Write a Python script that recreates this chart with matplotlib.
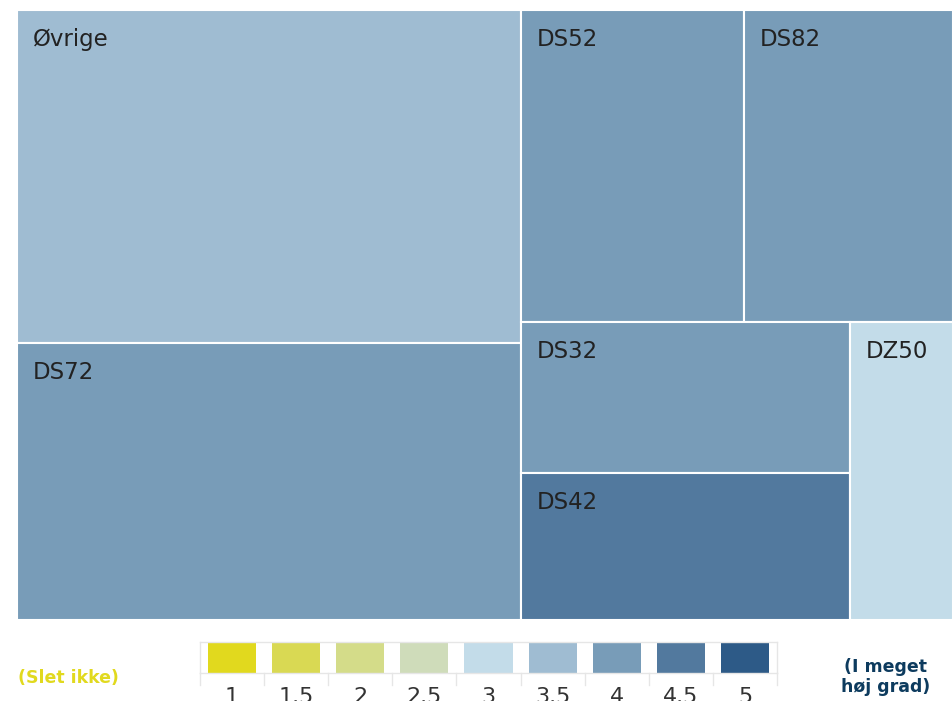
import matplotlib.pyplot as plt
from matplotlib.patches import Rectangle

# node names, sizes (share of total) and colour value (1-5 scale)
names = ['Øvrige', 'DS72', 'DS52', 'DS82', 'DS32', 'DS42', 'DZ50']
sizes = [29.4, 24.4, 12.2, 11.4, 8.7, 8.5, 5.4]
scores = [3.5, 4, 4, 4, 4, 4.5, 3]

# colour classes of the legend
classes = [1, 1.5, 2, 2.5, 3, 3.5, 4, 4.5, 5]
class_colors = ['#e1d91e', '#d9d953', '#d4dc89', '#cfdcba', '#c3dce9',
                '#9fbcd2', '#789cb8', '#52799e', '#2d5a87']
class_labels = ['1', '1.5', '2', '2.5', '3', '3.5', '4', '4.5', '5']

# how the nodes are grouped into strips (direction alternates)
groups = [['Øvrige', 'DS72'], ['DS52', 'DS82'], ['DS32', 'DS42'], ['DZ50']]

size_of = dict(zip(names, sizes))
color_of = {n: class_colors[classes.index(s)] for n, s in zip(names, scores)}


def layout(groups):
    x0, y0, w, h = 0.0, 0.0, 1.0, 1.0
    remaining = sum(size_of[n] for g in groups for n in g)
    rects = {}
    for k, g in enumerate(groups):
        gsum = sum(size_of[n] for n in g)
        if k % 2 == 0:   # column on the left, stacked vertically
            gw = w * gsum / remaining
            y = y0
            for n in g:
                nh = h * size_of[n] / gsum
                rects[n] = (x0, y, gw, nh)
                y += nh
            x0 += gw
            w -= gw
        else:            # row along the top
            gh = h * gsum / remaining
            x = x0
            for n in g:
                nw = w * size_of[n] / gsum
                rects[n] = (x, y0, nw, gh)
                x += nw
            y0 += gh
            h -= gh
        remaining -= gsum
    return rects


W, H = 953, 701
fig = plt.figure(figsize=(W / 100, H / 100), dpi=100)

# ── treemap ──
ax = fig.add_axes([17 / W, (H - 620) / H, (953 - 17) / W, (620 - 10) / H])
ax.set_xlim(0, 1)
ax.set_ylim(1, 0)
ax.axis('off')

rects = layout(groups)
for n in names:
    x, y, w, h = rects[n]
    ax.add_patch(Rectangle((x, y), w, h, facecolor=color_of[n],
                           edgecolor='white', linewidth=1.5))
    ax.annotate(n, xy=(x, y), xytext=(11.5, -13), textcoords='offset points',
                ha='left', va='top', fontsize=16.5, color='#222222')

# ── colour legend ──
lx0, lx1, ly0, ly1 = 200, 777, 642, 673
lax = fig.add_axes([lx0 / W, (H - ly1) / H, (lx1 - lx0) / W, (ly1 - ly0) / H])
lax.set_xlim(0, len(classes))
lax.set_ylim(0, 1)
lax.axis('off')

grid_c = '#e6e6e6'
lax.plot([0, len(classes)], [1, 1], color=grid_c, lw=1, clip_on=False)
lax.plot([0, len(classes)], [0, 0], color=grid_c, lw=1, clip_on=False)
lax.plot([0, 0], [0, 1], color=grid_c, lw=1, clip_on=False)
lax.plot([len(classes)] * 2, [0, 1], color=grid_c, lw=1, clip_on=False)
for i in range(len(classes) + 1):
    lax.plot([i, i], [0, -0.4], color=grid_c, lw=1, clip_on=False)

for i, (c, lab) in enumerate(zip(class_colors, class_labels)):
    lax.add_patch(Rectangle((i + 0.125, 0), 0.75, 0.97, facecolor=c,
                            edgecolor='none'))
    lax.annotate(lab, xy=(i + 0.5, 0), xytext=(0, -10), textcoords='offset points',
                 ha='center', va='top', fontsize=16, color='#333333',
                 annotation_clip=False)

fig.text(68 / W, 1 - 678 / H, '(Slet ikke)', ha='center', va='center',
         fontsize=12.5, fontweight='bold', color='#e1d91e')
fig.text(886 / W, 1 - 677 / H, '(I meget\nhøj grad)', ha='center', va='center',
         fontsize=12.5, fontweight='bold', color='#0d3b5e', linespacing=1.15)

fig.savefig('out.png', dpi=100)
